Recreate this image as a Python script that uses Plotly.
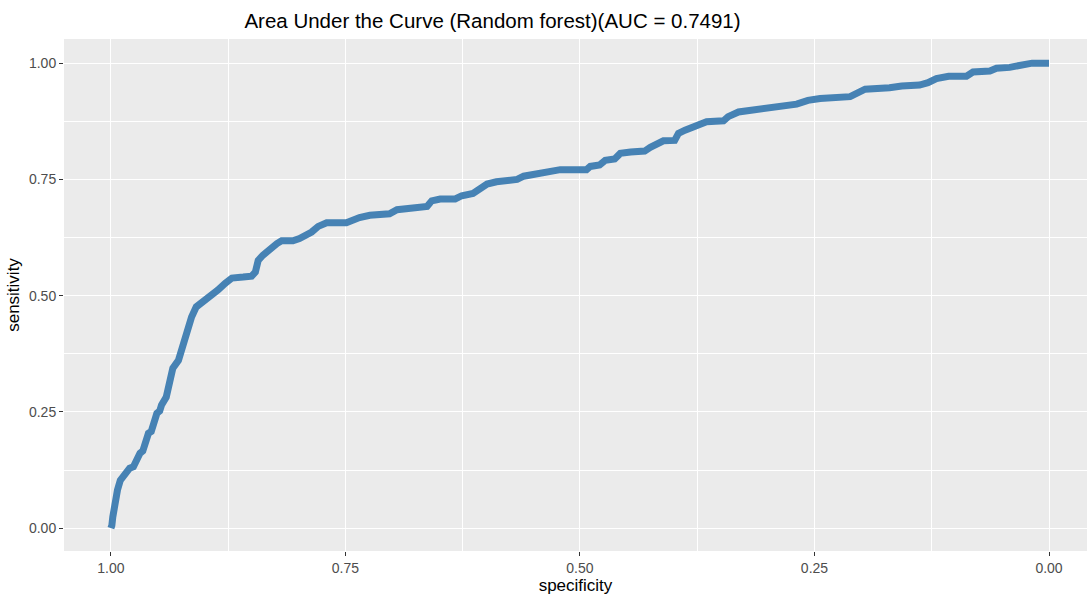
import plotly.graph_objects as go

specificity = [1.000, 0.999, 0.998, 0.996, 0.993, 0.990, 0.983, 0.980, 0.976, 0.974,
               0.969, 0.966, 0.964, 0.960, 0.957, 0.955, 0.951, 0.948, 0.946, 0.941,
               0.938, 0.937, 0.934, 0.928,
               0.925, 0.921, 0.918, 0.914, 0.909, 0.902, 0.893, 0.886, 0.878, 0.871,
               0.859, 0.850, 0.846, 0.843, 0.838, 0.830, 0.823, 0.818, 0.806, 0.799,
               0.791, 0.786, 0.779, 0.770, 0.749, 0.742, 0.735, 0.724, 0.703, 0.695,
               0.681, 0.674, 0.663, 0.658, 0.649, 0.633, 0.626, 0.614, 0.608, 0.599,
               0.589, 0.578, 0.567, 0.560, 0.550, 0.539, 0.525, 0.521, 0.493, 0.489,
               0.479, 0.473, 0.463, 0.457, 0.446, 0.431, 0.425, 0.418, 0.411, 0.399,
               0.395, 0.388, 0.379, 0.372, 0.365, 0.347, 0.342, 0.331, 0.319, 0.297,
               0.290, 0.269, 0.257, 0.244, 0.212, 0.205, 0.196, 0.170, 0.157, 0.138,
               0.129, 0.120, 0.107, 0.088, 0.081, 0.063, 0.056, 0.042, 0.027, 0.018,
               0.000]
sensitivity = [0.000, 0.006, 0.024, 0.054, 0.082, 0.103, 0.118, 0.129, 0.132, 0.142,
               0.161, 0.166, 0.183, 0.204, 0.208, 0.226, 0.247, 0.252, 0.265, 0.282,
               0.312, 0.325, 0.344, 0.361,
               0.383, 0.409, 0.433, 0.454, 0.476, 0.487, 0.497, 0.512, 0.527, 0.538,
               0.540, 0.542, 0.551, 0.576, 0.587, 0.602, 0.612, 0.618, 0.618, 0.623,
               0.630, 0.637, 0.649, 0.657, 0.657, 0.664, 0.668, 0.673, 0.676, 0.685,
               0.688, 0.691, 0.692, 0.704, 0.708, 0.708, 0.715, 0.720, 0.727, 0.740,
               0.745, 0.747, 0.750, 0.757, 0.761, 0.766, 0.768, 0.771, 0.771, 0.778,
               0.781, 0.791, 0.794, 0.806, 0.809, 0.811, 0.819, 0.826, 0.833, 0.834,
               0.849, 0.856, 0.862, 0.867, 0.874, 0.876, 0.885, 0.895, 0.899, 0.903,
               0.908, 0.912, 0.920, 0.924, 0.928, 0.936, 0.944, 0.947, 0.951, 0.953,
               0.958, 0.967, 0.972, 0.972, 0.981, 0.983, 0.989, 0.991, 0.996, 1.000,
               1.000]

tick_vals = [0.0, 0.25, 0.5, 0.75, 1.0]
tick_text = ["0.00", "0.25", "0.50", "0.75", "1.00"]
minor_vals = [0.125, 0.375, 0.625, 0.875]
title_text = "Area Under the Curve (Random forest)(AUC = 0.7491)"

fig = go.Figure()
fig.add_trace(go.Scatter(x=specificity, y=sensitivity, mode="lines",
                         line=dict(color="#4682B4", width=7),
                         hoverinfo="x+y", showlegend=False))

W, H = 1087, 596
fig.update_layout(
    width=W, height=H,
    margin=dict(l=64, r=0, t=39, b=45),
    paper_bgcolor="white", plot_bgcolor="#EBEBEB",
    font=dict(family="Liberation Sans, Arial, sans-serif", color="#4D4D4D"),
    title=dict(text=title_text, xref="container", yref="container",
               x=492.5 / W, xanchor="center", y=1 - 21 / H, yanchor="middle",
               font=dict(size=20.5, color="black")),
    showlegend=False,
)
axis_common = dict(
    showline=False, zeroline=False, showgrid=True,
    gridcolor="white", gridwidth=1.4,
    ticks="outside", ticklen=4, tickwidth=1, tickcolor="#333333",
    tickfont=dict(size=14, color="#4D4D4D"),
    tickmode="array", tickvals=tick_vals, ticktext=tick_text,
)
fig.update_xaxes(**axis_common, range=[1.05, -0.0405],
                 minor=dict(showgrid=True, gridcolor="white", gridwidth=0.7,
                            tickmode="array", tickvals=minor_vals, ticks=""),
                 title=dict(text="specificity", font=dict(size=17, color="black"), standoff=4))
fig.update_yaxes(**axis_common, range=[-0.049, 1.052],
                 minor=dict(showgrid=True, gridcolor="white", gridwidth=0.7,
                            tickmode="array", tickvals=minor_vals, ticks=""),
                 title=dict(text="sensitivity", font=dict(size=17, color="black"), standoff=5))

fig.write_html("out.html")
